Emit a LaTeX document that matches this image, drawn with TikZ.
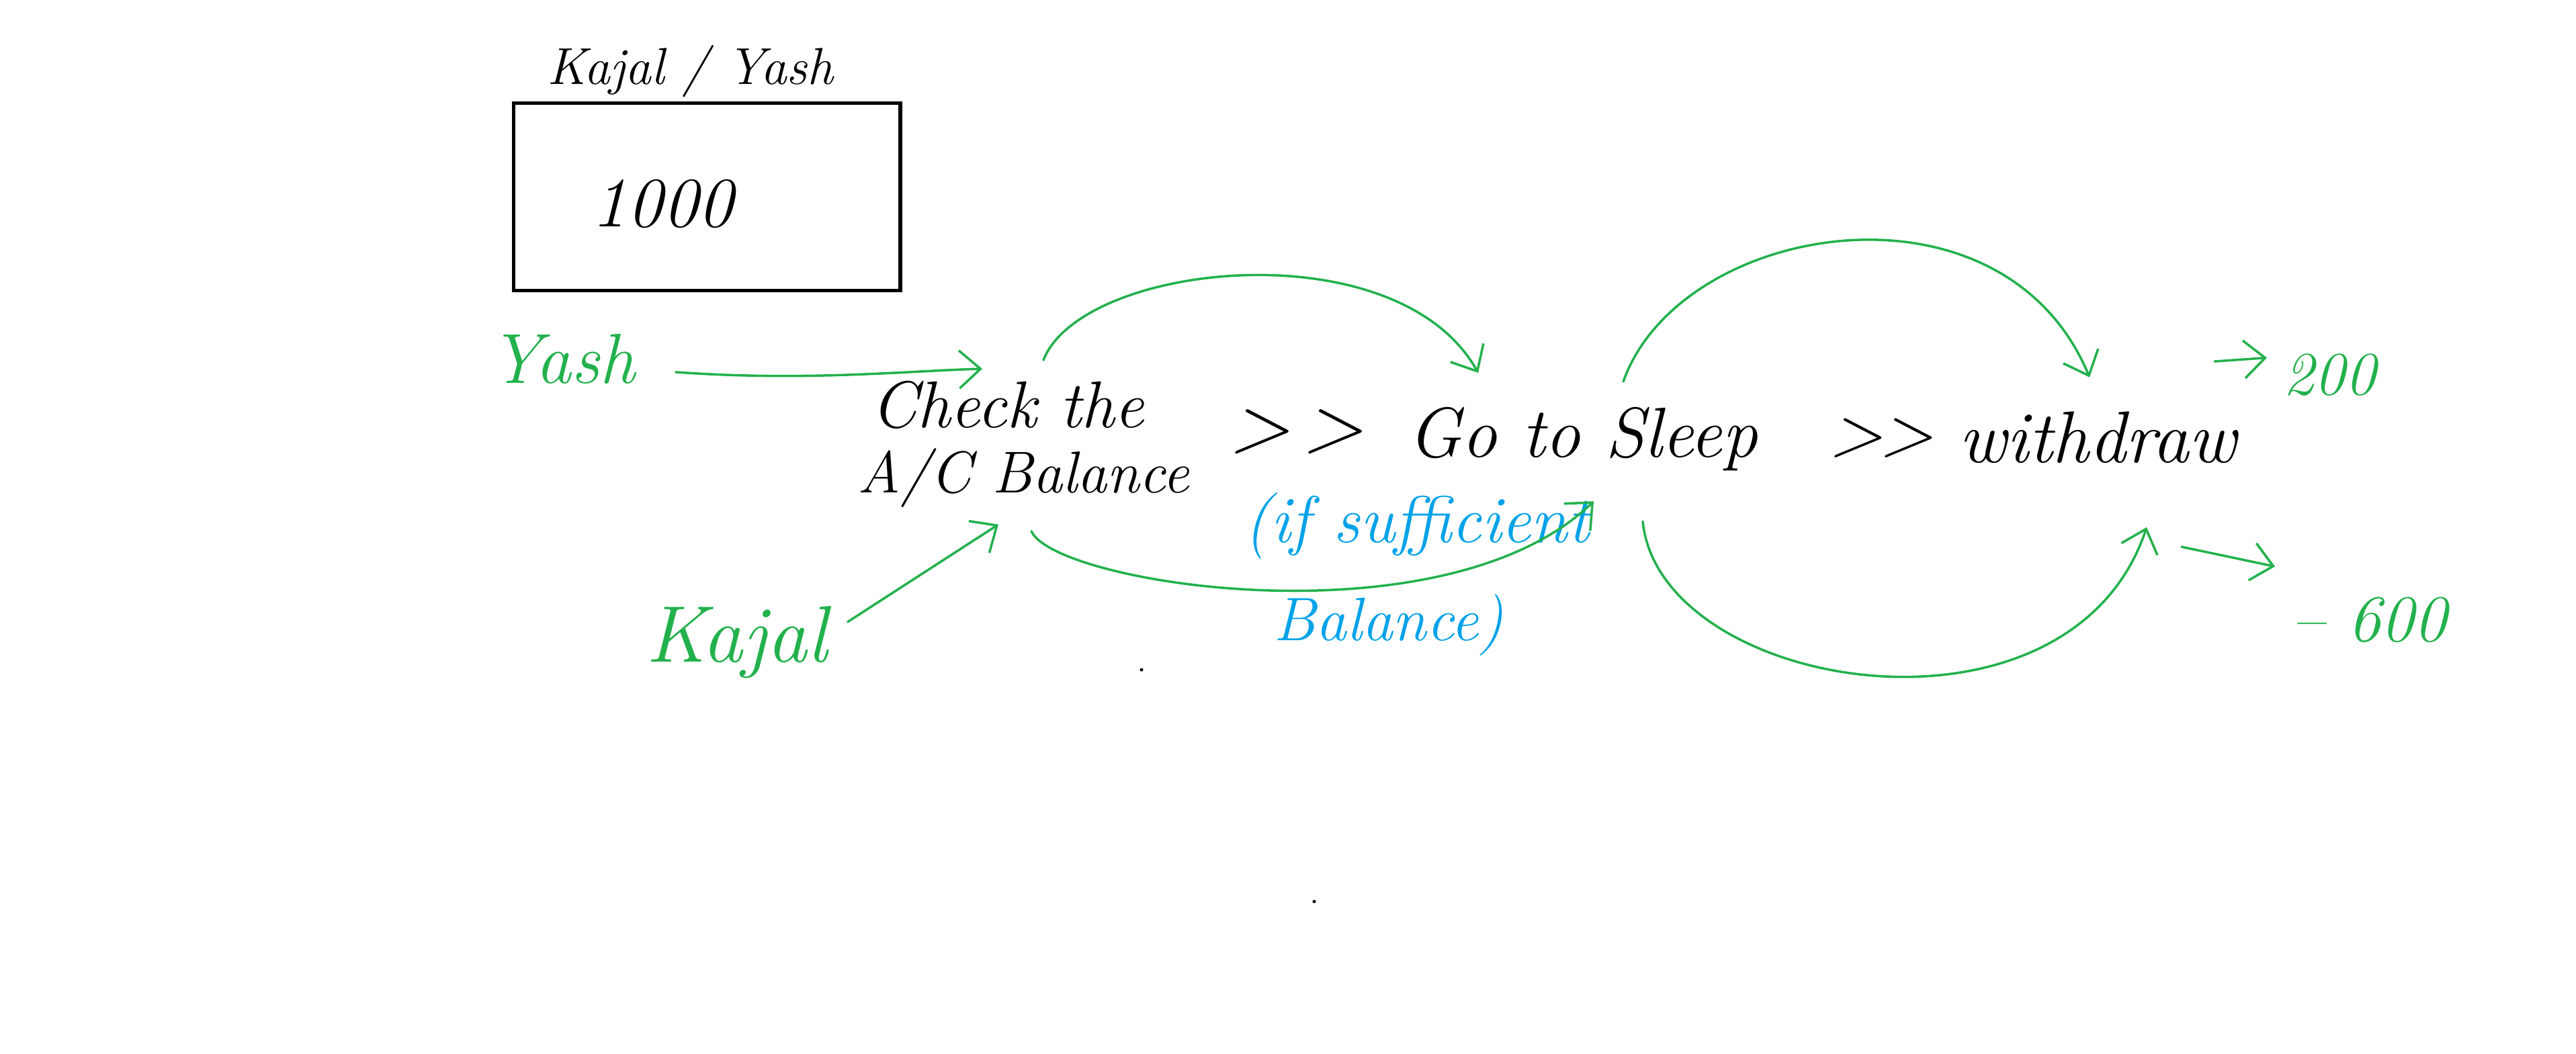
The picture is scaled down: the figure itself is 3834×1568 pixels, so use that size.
\documentclass[tikz,border=0pt]{standalone}
\usepackage{fontspec}
\usetikzlibrary{arrows.meta}
\definecolor{pgreen}{RGB}{34,177,76}
\definecolor{pblue}{RGB}{0,162,232}
\begin{document}
\begin{tikzpicture}[x=0.01cm,y=-0.01cm,
  hand/.style={inner sep=0pt, anchor=base west, font=\itshape\fontsize{#1}{#1}\selectfont},
  hand/.default=28,
  gtext/.style={hand=#1, text=pgreen},
  btext/.style={hand=#1, text=pblue},
  gline/.style={draw=pgreen, line width=1pt, line cap=round, line join=round,
    -{Straight Barb[length=9pt,width=16pt,line width=1pt]}},
  acctbox/.style={draw, line width=1.6pt, minimum width=5.75cm, minimum height=2.79cm, inner sep=0pt}]
\useasboundingbox (0,0) rectangle (3834,1568);
% account box
\node[acctbox] (acct) at (1052,293) {};
\node[hand=22] (title) at (814,125) {Kajal / Yash};
\node[hand=30] (amount) at (880,337) {1000};
% main flow text
\node[hand=28] (check) at (1296,636) {Check the};
\node[hand=25] (acbal) at (1276,733) {A/C Balance};
\node[hand=34] (gt1) at (1829,672) {>\kern0.15em>};
\node[hand=30] (sleep) at (2095,680) {Go to Sleep};
\node[hand=30] (gt2) at (2722,678) {>\kern-0.05em>};
\node[hand=31] (withdraw) at (2915,688) {withdraw};
% blue note
\node[btext=28] (ifsuff) at (1851,807) {(if sufficient};
\node[btext=26] (baltxt) at (1895,953) {Balance)};
% actors
\node[gtext=30] (yash) at (728,570) {Yash};
\node[gtext=34] (kajal) at (961,985) {Kajal};
% results
\node[gtext=26] (t200) at (3398,587) {200};
\node[gtext=28] (t600) at (3410,954) {– 600};
\coordinate (w200) at (3296,538);
\coordinate (w600) at (3247,814);
% connectors
\draw[gline] ([shift={(60,20)}]yash.east) .. controls (1200,568) and (1350,552) .. ([shift={(166,-17)}]check.north west);
\draw[gline] ([shift={(30,-30)}]kajal.east) -- ([shift={(210,25)}]acbal.south west);
\draw[gline] ([shift={(257,-30)}]check.north west) .. controls (1610,390) and (2080,340) .. ([shift={(105,-50)}]sleep.north west);
\draw[gline] ([shift={(259,35)}]acbal.south west) .. controls (1570,870) and (2150,960) .. ([shift={(277,45)}]sleep.south west);
\draw[gline] ([shift={(321,-37)}]sleep.north west) .. controls (2500,330) and (2980,250) .. ([shift={(195,-50)}]withdraw.north west);
\draw[gline] ([shift={(350,75)}]sleep.south west) .. controls (2470,1030) and (3080,1130) .. ([shift={(280,95)}]withdraw.south west);
\draw[gline] (w200) -- ([shift={(-24,-25)}]t200.west);
\draw[gline] (w600) -- ([shift={(-24,-79)}]t600.west);
% stray dots
\fill (1699,997) circle (2.5);
\fill (1956,1342) circle (2.5);
\end{tikzpicture}
\end{document}
